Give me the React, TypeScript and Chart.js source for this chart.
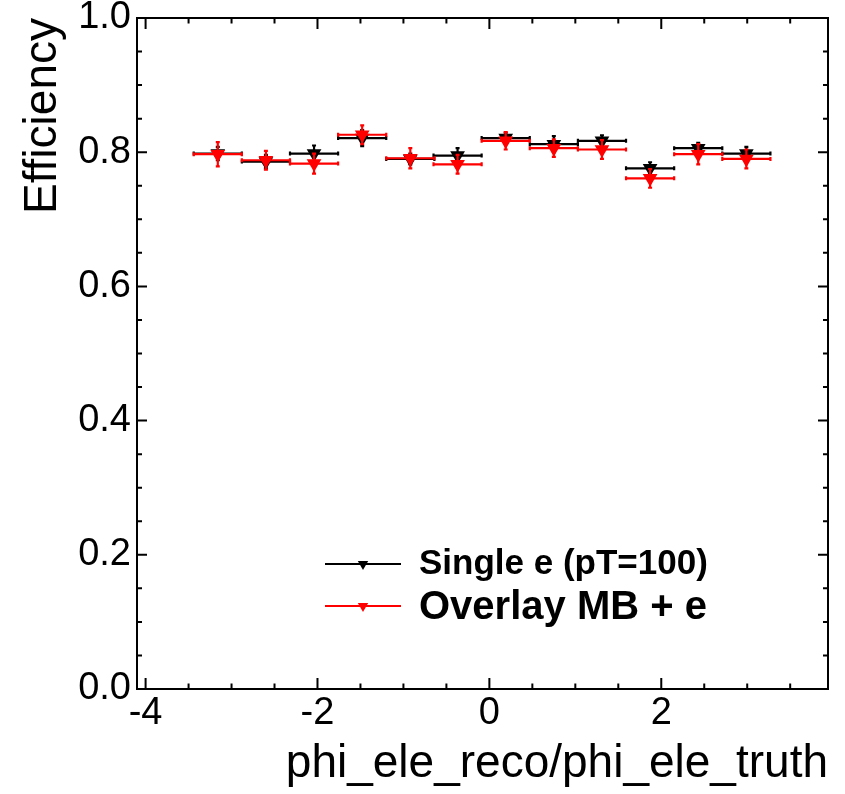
import React, { useEffect, useRef } from 'react';
import { Chart, registerables } from 'chart.js';

Chart.register(...registerables);

// ---- data ----
const X_CENTERS = [-3.16, -2.6, -2.04, -1.48, -0.92, -0.37, 0.19, 0.75, 1.31, 1.87, 2.43, 2.99];
const X_HALF_WIDTHS = [0.28, 0.28, 0.28, 0.28, 0.28, 0.28, 0.28, 0.28, 0.28, 0.28, 0.28, 0.28];
const SINGLE_E = [0.798, 0.786, 0.798, 0.821, 0.79, 0.795, 0.821, 0.812, 0.817, 0.776, 0.806, 0.798];
const SINGLE_E_ERR = [0.01, 0.01, 0.012, 0.012, 0.008, 0.011, 0.008, 0.012, 0.008, 0.009, 0.008, 0.01];
const OVERLAY = [0.797, 0.788, 0.783, 0.826, 0.791, 0.782, 0.817, 0.806, 0.804, 0.761, 0.797, 0.79];
const OVERLAY_ERR = [0.018, 0.014, 0.015, 0.014, 0.015, 0.014, 0.013, 0.013, 0.014, 0.014, 0.015, 0.014];
const SERIES_LABELS = ['Single e (pT=100)', 'Overlay MB + e'];
const SERIES_COLORS = ['#000000', '#ff0000'];
const X_TICKS = [-4, -2, 0, 2];
const Y_TICKS = [0, 0.2, 0.4, 0.6, 0.8, 1.0];
const X_MINOR_STEP = 0.5;
const Y_MINOR_STEP = 0.05;
const X_MIN = -4.1;
const X_MAX = 3.94;
const Y_MIN = 0;
const Y_MAX = 1;
const X_TITLE = 'phi_ele_reco/phi_ele_truth';
const Y_TITLE = 'Efficiency';

const FONT = '"Liberation Sans", Arial, Helvetica, sans-serif';

const errorBarPlugin = {
  id: 'rootErrorBars',
  beforeDatasetDraw(chart: any, args: any) {
    const ds = chart.data.datasets[args.index];
    const xs = chart.scales.x;
    const ys = chart.scales.y;
    const ctx = chart.ctx;
    ctx.save();
    ctx.strokeStyle = ds.borderColor;
    ctx.lineWidth = 2.2;
    ds.data.forEach((p: any, i: number) => {
      const px = xs.getPixelForValue(p.x);
      const py = ys.getPixelForValue(p.y);
      const xl = xs.getPixelForValue(p.x - ds.xerr[i]);
      const xr = xs.getPixelForValue(p.x + ds.xerr[i]);
      const yt = ys.getPixelForValue(p.y + ds.yerr[i]);
      const yb = ys.getPixelForValue(p.y - ds.yerr[i]);
      ctx.beginPath();
      ctx.moveTo(xl, py);
      ctx.lineTo(xr, py);
      ctx.moveTo(px, yt);
      ctx.lineTo(px, yb);
      // small end caps
      ctx.moveTo(xl, py - 2);
      ctx.lineTo(xl, py + 2);
      ctx.moveTo(xr, py - 2);
      ctx.lineTo(xr, py + 2);
      ctx.moveTo(px - 2, yt);
      ctx.lineTo(px + 2, yt);
      ctx.moveTo(px - 2, yb);
      ctx.lineTo(px + 2, yb);
      ctx.stroke();
    });
    ctx.restore();
  },
};

function drawTriangleDown(ctx: CanvasRenderingContext2D, x: number, y: number, r: number, color: string) {
  ctx.save();
  ctx.fillStyle = color;
  ctx.beginPath();
  ctx.moveTo(x, y + r);
  ctx.lineTo(x - r * Math.sin(Math.PI / 3), y - r / 2);
  ctx.lineTo(x + r * Math.sin(Math.PI / 3), y - r / 2);
  ctx.closePath();
  ctx.fill();
  ctx.restore();
}

const frameAndLegendPlugin = {
  id: 'rootFrame',
  afterDraw(chart: any) {
    const ctx = chart.ctx;
    const { left, right, top, bottom } = chart.chartArea;
    const xs = chart.scales.x;
    const ys = chart.scales.y;
    ctx.save();
    ctx.strokeStyle = '#000';
    ctx.lineWidth = 2;
    ctx.strokeRect(left, top, right - left, bottom - top);

    ctx.beginPath();
    // x ticks (bottom & top, inward)
    const xStart = Math.ceil(X_MIN / X_MINOR_STEP);
    const xEnd = Math.floor(X_MAX / X_MINOR_STEP);
    for (let k = xStart; k <= xEnd; k++) {
      const v = k * X_MINOR_STEP;
      const major = X_TICKS.some((t) => Math.abs(t - v) < 1e-6);
      const len = major ? 11 : 5.5;
      const px = xs.getPixelForValue(v);
      ctx.moveTo(px, bottom);
      ctx.lineTo(px, bottom - len);
      ctx.moveTo(px, top);
      ctx.lineTo(px, top + len);
    }
    // y ticks (left & right, inward)
    const yStart = Math.ceil(Y_MIN / Y_MINOR_STEP - 1e-6);
    const yEnd = Math.floor(Y_MAX / Y_MINOR_STEP + 1e-6);
    for (let k = yStart; k <= yEnd; k++) {
      const v = k * Y_MINOR_STEP;
      const major = Y_TICKS.some((t) => Math.abs(t - v) < 1e-6);
      const len = major ? 10 : 5;
      const py = ys.getPixelForValue(v);
      ctx.moveTo(left, py);
      ctx.lineTo(left + len, py);
      ctx.moveTo(right, py);
      ctx.lineTo(right - len, py);
    }
    ctx.stroke();

    // legend
    const legendRows = [
      { y: 564, textY: 564, size: 35, markerR: 6 },
      { y: 606, textY: 608, size: 40, markerR: 6 },
    ];
    chart.data.datasets.forEach((ds: any, i: number) => {
      const row = legendRows[i];
      const color = ds.borderColor;
      ctx.strokeStyle = color;
      ctx.lineWidth = 2;
      ctx.beginPath();
      ctx.moveTo(325, row.y);
      ctx.lineTo(401, row.y);
      ctx.stroke();
      drawTriangleDown(ctx, 363, row.y, row.markerR, color);
      ctx.fillStyle = '#000';
      ctx.font = `bold ${row.size}px ${FONT}`;
      ctx.textAlign = 'left';
      ctx.textBaseline = 'middle';
      ctx.fillText(ds.label, 419, row.textY);
    });
    ctx.restore();
  },
};

export default function App() {
  const canvasRef = useRef<HTMLCanvasElement | null>(null);

  useEffect(() => {
    const canvas = canvasRef.current;
    if (!canvas) return;
    const makeData = (vals: number[]) => vals.map((v, i) => ({ x: X_CENTERS[i], y: v }));
    const chart = new Chart(canvas, {
      type: 'scatter',
      data: {
        datasets: [
          {
            label: SERIES_LABELS[0],
            data: makeData(SINGLE_E),
            xerr: X_HALF_WIDTHS,
            yerr: SINGLE_E_ERR,
            borderColor: SERIES_COLORS[0],
            backgroundColor: SERIES_COLORS[0],
            pointStyle: 'triangle',
            rotation: 180,
            pointRadius: 8.5,
            pointBorderWidth: 0,
            order: 2,
          } as any,
          {
            label: SERIES_LABELS[1],
            data: makeData(OVERLAY),
            xerr: X_HALF_WIDTHS,
            yerr: OVERLAY_ERR,
            borderColor: SERIES_COLORS[1],
            backgroundColor: SERIES_COLORS[1],
            pointStyle: 'triangle',
            rotation: 180,
            pointRadius: 8.5,
            pointBorderWidth: 0,
            order: 1,
          } as any,
        ],
      },
      options: {
        animation: false,
        responsive: false,
        maintainAspectRatio: false,
        events: [],
        layout: { padding: { left: 0, top: 18, right: 17, bottom: 0 } },
        plugins: {
          legend: { display: false },
          tooltip: { enabled: false },
        },
        scales: {
          x: {
            type: 'linear',
            min: X_MIN,
            max: X_MAX,
            grid: { display: false, drawTicks: false },
            border: { display: false },
            afterBuildTicks: (scale: any) => {
              scale.ticks = X_TICKS.map((v) => ({ value: v }));
            },
            afterFit: (scale: any) => {
              scale.height = 105;
              scale.paddingLeft = 0;
              scale.paddingRight = 0;
            },
            ticks: {
              color: '#000',
              padding: 2,
              maxRotation: 0,
              autoSkip: false,
              font: { family: FONT, size: 38 },
              callback: (v: any) => String(v),
            },
            title: {
              display: true,
              text: X_TITLE,
              align: 'end',
              color: '#000',
              font: { family: FONT, size: 46, lineHeight: 1 },
              padding: { top: 0, bottom: 7 },
            },
          },
          y: {
            type: 'linear',
            min: Y_MIN,
            max: Y_MAX,
            grid: { display: false, drawTicks: false },
            border: { display: false },
            afterBuildTicks: (scale: any) => {
              scale.ticks = Y_TICKS.map((v) => ({ value: v }));
            },
            afterFit: (scale: any) => {
              scale.width = 137;
              scale.paddingTop = 0;
              scale.paddingBottom = 0;
            },
            ticks: {
              color: '#000',
              padding: 6,
              autoSkip: false,
              font: { family: FONT, size: 38 },
              callback: (v: any) => Number(v).toFixed(1),
            },
            title: {
              display: true,
              text: Y_TITLE,
              align: 'end',
              color: '#000',
              font: { family: FONT, size: 46, lineHeight: 1 },
              padding: { top: 20, bottom: 0 },
            },
          },
        },
      } as any,
      plugins: [errorBarPlugin, frameAndLegendPlugin],
    });
    return () => chart.destroy();
  }, []);

  return (
    <div style={{ position: 'fixed', left: 0, top: 0, width: 845, height: 794, background: '#fff' }}>
      <canvas ref={canvasRef} width={845} height={794} style={{ display: 'block', width: 845, height: 794 }} />
    </div>
  );
}
